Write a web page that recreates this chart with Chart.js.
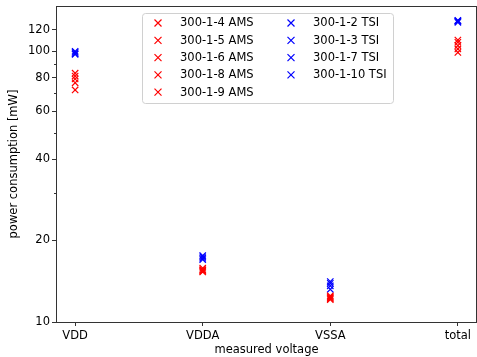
<!DOCTYPE html>
<html>
<head>
<meta charset="utf-8">
<script src="https://cdn.jsdelivr.net/npm/chart.js@4"></script>
<style>
  html, body { margin: 0; padding: 0; background: #fff; }
  #wrap { width: 477px; height: 357px; }
</style>
</head>
<body>
<div id="wrap"><canvas id="canvas" width="477" height="357"></canvas></div>
<script>
// categories on the x axis
var categories = ['VDD', 'VDDA', 'VSSA', 'total'];

// AMS chips (red), values per category: VDD, VDDA, VSSA, total
var amsLabels = ['300-1-4 AMS', '300-1-5 AMS', '300-1-6 AMS', '300-1-8 AMS', '300-1-9 AMS'];
var amsVDD   = [83, 81, 79, 76.5, 72];
var amsVDDA  = [15.8, 15.6, 15.4, 15.5, 15.3];
var amsVSSA  = [12.5, 12.3, 12.2, 12.1, 12.4];
var amsTotal = [110, 108, 105, 102, 99];

// TSI chips (blue)
var tsiLabels = ['300-1-2 TSI', '300-1-3 TSI', '300-1-7 TSI', '300-1-10 TSI'];
var tsiVDD   = [100, 99, 98, 97.5];
var tsiVDDA  = [17.6, 17.4, 17.0, 17.2];
var tsiVSSA  = [14.1, 13.9, 13.6, 13.2];
var tsiTotal = [130, 129, 128, 129.5];

// y ticks
var yMajorTicks = [10, 20, 40, 60, 80, 100, 120];
var yMinorTicks = [30, 50, 70, 90];

var FONT = 'DejaVu Sans';
var FSIZE = 11.5;

var makeSet = function(label, color, vals) {
  return {
    label: label,
    data: vals.map(function(v, i) { return {x: i, y: v}; }),
    pointStyle: 'crossRot',
    radius: 4.5,
    hoverRadius: 4.5,
    borderWidth: 1.2,
    borderColor: color,
    backgroundColor: color,
    showLine: false
  };
};

var datasets = [];
amsLabels.forEach(function(l, i) {
  datasets.push(makeSet(l, '#ff0000', [amsVDD[i], amsVDDA[i], amsVSSA[i], amsTotal[i]]));
});
tsiLabels.forEach(function(l, i) {
  datasets.push(makeSet(l, '#0000ff', [tsiVDD[i], tsiVDDA[i], tsiVSSA[i], tsiTotal[i]]));
});

// chart.js keeps space for end labels, drop it
var noPadding = function(s) {
  s.paddingLeft = 0; s.paddingRight = 0; s.paddingTop = 0; s.paddingBottom = 0;
  if (s._margins) { s._margins.left = 0; s._margins.right = 0; s._margins.top = 0; s._margins.bottom = 0; }
};

// frame, minor ticks and the two-column legend
var extras = {
  id: 'extras',
  afterDraw: function(chart) {
    var ctx = chart.ctx;
    var a = chart.chartArea;
    var ys = chart.scales.y;
    ctx.save();
    ctx.strokeStyle = '#333';
    ctx.lineWidth = 1;
    ctx.strokeRect(a.left + 0.5, a.top + 0.5, a.right - a.left - 1, a.bottom - a.top);
    // minor ticks
    yMinorTicks.forEach(function(v) {
      var py = Math.round(ys.getPixelForValue(v)) + 0.5;
      ctx.beginPath();
      ctx.moveTo(a.left - 2, py);
      ctx.lineTo(a.left, py);
      ctx.stroke();
    });
    // legend
    var bx = 142, by = 13, bw = 251, bh = 90;
    ctx.fillStyle = 'rgba(255,255,255,0.8)';
    ctx.strokeStyle = '#d0d0d0';
    ctx.beginPath();
    ctx.roundRect(bx + 0.5, by + 0.5, bw, bh, 3);
    ctx.fill();
    ctx.stroke();
    ctx.font = FSIZE + 'px "' + FONT + '"';
    ctx.textBaseline = 'middle';
    ctx.textAlign = 'left';
    var rowH = 17.3;
    chart.data.datasets.forEach(function(ds, i) {
      var col = i < amsLabels.length ? 0 : 1;
      var row = col === 0 ? i : i - amsLabels.length;
      var mx = col === 0 ? 158 : 291;
      var tx = col === 0 ? 180 : 313;
      var my = 23 + row * rowH;
      ctx.strokeStyle = ds.borderColor;
      ctx.lineWidth = 1.2;
      ctx.beginPath();
      ctx.moveTo(mx - 3.5, my - 3.5); ctx.lineTo(mx + 3.5, my + 3.5);
      ctx.moveTo(mx - 3.5, my + 3.5); ctx.lineTo(mx + 3.5, my - 3.5);
      ctx.stroke();
      ctx.fillStyle = '#000';
      ctx.fillText(ds.label, tx, my + 0.5);
    });
    ctx.restore();
  }
};

var ctx = document.getElementById('canvas').getContext('2d');
window.powerChart = new Chart(ctx, {
  type: 'scatter',
  data: { datasets: datasets },
  plugins: [extras],
  options: {
    responsive: false,
    animation: false,
    layout: { autoPadding: false, padding: { top: 6, right: 0, left: 0, bottom: 0 } },
    plugins: {
      legend: { display: false },
      tooltip: { enabled: false }
    },
    scales: {
      x: {
        type: 'linear',
        min: -0.15,
        max: 3.15,
        afterBuildTicks: function(s) {
          s.ticks = categories.map(function(c, i) { return {value: i}; });
        },
        afterFit: function(s) {
          s.height = 35;
          noPadding(s);
        },
        ticks: {
          color: '#000',
          font: { family: FONT, size: FSIZE },
          padding: 3,
          maxRotation: 0,
          callback: function(v) { return categories[v]; }
        },
        grid: { drawOnChartArea: false, drawTicks: true, tickLength: 4, color: '#333' },
        border: { color: '#333', width: 1 },
        title: {
          display: true,
          text: 'measured voltage',
          color: '#000',
          font: { family: FONT, size: FSIZE },
          padding: { top: 0, bottom: 0 }
        }
      },
      y: {
        type: 'logarithmic',
        min: 10,
        max: 147,
        afterBuildTicks: function(s) {
          s.ticks = yMajorTicks.map(function(v) { return {value: v}; });
        },
        afterFit: function(s) {
          s.width = 56;
          noPadding(s);
        },
        ticks: {
          color: '#000',
          font: { family: FONT, size: FSIZE },
          padding: 2,
          callback: function(v) { return String(v); }
        },
        grid: { drawOnChartArea: false, drawTicks: true, tickLength: 4, color: '#333' },
        border: { color: '#333', width: 1 },
        title: {
          display: true,
          text: 'power consumption [mW]',
          color: '#000',
          font: { family: FONT, size: FSIZE },
          padding: { top: 7, bottom: 0 }
        }
      }
    }
  }
});
</script>
</body>
</html>
